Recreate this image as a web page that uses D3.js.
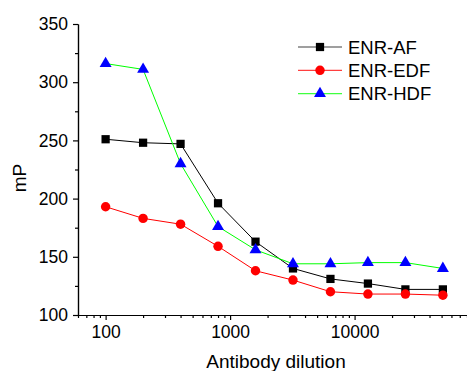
<!DOCTYPE html>
<html>
<head>
<meta charset="utf-8">
<script src="https://cdn.jsdelivr.net/npm/d3@7"></script>
<style>
  body { margin: 0; background: #fff; }
  svg { display: block; font-family: Arial, "Liberation Sans", sans-serif; }
  .axis path, .axis line { stroke: #000; stroke-width: 1.2; }
  .axis text { font-size: 17.5px; fill: #000; }
</style>
</head>
<body>
<div class="chart-container"></div>
<script>
const totalWidth = 467;
const totalHeight = 371;

const dilutions = [100, 200, 400, 800, 1600, 3200, 6400, 12800, 25600, 51200];
const enrAF  = [251, 248, 247, 196, 163, 140, 131, 127, 122, 122];
const enrEDF = [193, 183, 178, 159, 138, 130, 120, 118, 118, 117];
const enrHDF = [316, 311, 230, 176, 156, 144, 144, 145, 145, 140];
const seriesNames = ['ENR-AF', 'ENR-EDF', 'ENR-HDF'];
const xTicks = [100, 1000, 10000];
const yTicks = [100, 150, 200, 250, 300, 350];

const plotLeft = 78, plotRight = 467, plotTop = 24, plotBottom = 315;

const svg = d3.select('.chart-container')
    .append('svg')
    .attr('width', totalWidth)
    .attr('height', totalHeight);

const scaleX = d3.scaleLog().domain([60, 80000]).range([plotLeft, plotRight]);
const scaleY = d3.scaleLinear().domain([100, 350]).range([plotBottom, plotTop]);

// minor ticks
const xMinor = scaleX.ticks().filter(v => !xTicks.includes(v));
const yMinor = d3.range(125, 350, 50);

svg.append('g')
    .attr('class', 'axis')
    .attr('transform', `translate(0,${plotBottom})`)
    .call(d3.axisBottom(scaleX).tickValues(xMinor).tickSize(3).tickFormat('').tickSizeOuter(0));
svg.append('g')
    .attr('class', 'axis')
    .attr('transform', `translate(0,${plotBottom})`)
    .call(d3.axisBottom(scaleX).tickValues(xTicks).tickSize(5).tickPadding(6).tickFormat(d3.format('d')).tickSizeOuter(0));

svg.append('g')
    .attr('class', 'axis')
    .attr('transform', `translate(${plotLeft},0)`)
    .call(d3.axisLeft(scaleY).tickValues(yMinor).tickSize(3).tickFormat('').tickSizeOuter(0));
svg.append('g')
    .attr('class', 'axis')
    .attr('transform', `translate(${plotLeft},0)`)
    .call(d3.axisLeft(scaleY).tickValues(yTicks).tickSize(5).tickPadding(5).tickSizeOuter(0));

svg.append('text')
    .attr('x', 276).attr('y', 368)
    .attr('text-anchor', 'middle')
    .attr('font-size', 19)
    .text('Antibody dilution');

svg.append('text')
    .attr('transform', 'translate(26,178) rotate(-90)')
    .attr('text-anchor', 'middle')
    .attr('font-size', 19)
    .text('mP');

const series = [
    {name: seriesNames[0], values: enrAF,  line: '#000000', fill: '#000000', symbol: d3.symbolSquare, size: 68},
    {name: seriesNames[1], values: enrEDF, line: '#ff0000', fill: '#ff0000', symbol: d3.symbolCircle, size: 70},
    {name: seriesNames[2], values: enrHDF, line: '#00ff00', fill: '#0000ff', symbol: d3.symbolTriangle, size: 62},
];

const line = d3.line()
    .x((d, i) => scaleX(dilutions[i]))
    .y(d => scaleY(d));

series.forEach(s => {
    svg.append('path')
        .attr('d', line(s.values))
        .attr('fill', 'none')
        .attr('stroke', s.line)
        .attr('stroke-width', 1);
});

series.forEach(s => {
    svg.selectAll(null)
        .data(s.values)
        .enter()
        .append('path')
        .attr('transform', (d, i) => `translate(${scaleX(dilutions[i])},${scaleY(d)})`)
        .attr('d', d3.symbol().type(s.symbol).size(s.size))
        .attr('fill', s.fill);
});

// legend
const legend = svg.append('g').attr('transform', 'translate(298,47)');
series.forEach((s, i) => {
    const row = legend.append('g').attr('transform', `translate(0,${i * 23.3})`);
    row.append('line')
        .attr('x1', 0).attr('x2', 44)
        .attr('stroke', s.line).attr('stroke-width', 1.2).attr('opacity', 0.75);
    row.append('path')
        .attr('transform', 'translate(22,0)')
        .attr('d', d3.symbol().type(s.symbol).size(s.size))
        .attr('fill', s.fill);
    row.append('text')
        .attr('x', 50).attr('y', 6.5)
        .attr('font-size', 18.5)
        .text(s.name);
});
</script>
</body>
</html>
